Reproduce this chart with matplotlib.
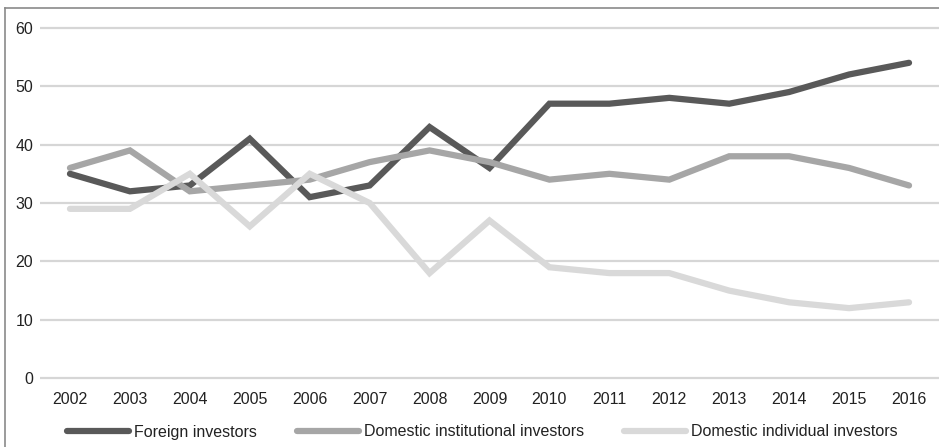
import matplotlib
matplotlib.use("Agg")
import matplotlib.pyplot as plt
from matplotlib.lines import Line2D

# data
years = [2002, 2003, 2004, 2005, 2006, 2007, 2008, 2009,
         2010, 2011, 2012, 2013, 2014, 2015, 2016]
foreign = [35, 32, 33, 41, 31, 33, 43, 36, 47, 47, 48, 47, 49, 52, 54]
institutional = [36, 39, 32, 33, 34, 37, 39, 37, 34, 35, 34, 38, 38, 36, 33]
individual = [29, 29, 35, 26, 35, 30, 18, 27, 19, 18, 18, 15, 13, 12, 13]
series_names = ["Foreign investors", "Domestic institutional investors",
                "Domestic individual investors"]
y_ticks = [0, 10, 20, 30, 40, 50, 60]

plt.rcParams['font.family'] = ['Liberation Sans', 'DejaVu Sans']
plt.rcParams['font.size'] = 11.5

fig = plt.figure(figsize=(9.39, 4.47), dpi=100)
ax = fig.add_axes([40 / 939, 1 - 380 / 447, 899 / 939, 354 / 447])

colors = ["#595959", "#a6a6a6", "#d9d9d9"]
for vals, name, c in zip([foreign, institutional, individual], series_names, colors):
    ax.plot(years, vals, color=c, lw=4.5, solid_capstyle='round',
            solid_joinstyle='miter', label=name, zorder=3)

ax.set_xlim(2001.5, 2016.5)
ax.set_ylim(-0.3, 60.3)
ax.set_xticks(years)
ax.set_xticklabels([str(y) for y in years])
ax.set_yticks(y_ticks)
ax.grid(axis='y', color="#d6d6d6", lw=1.6, zorder=1)
ax.tick_params(length=0, colors="#222222")
ax.tick_params(axis='x', pad=9)
ax.tick_params(axis='y', pad=5)
for s in ax.spines.values():
    s.set_visible(False)

leg = fig.legend(loc='center', bbox_to_anchor=(482 / 939, 1 - 432 / 447),
                 ncol=3, frameon=False, handlelength=3.9, handletextpad=0.3,
                 columnspacing=2.5, borderpad=0)
for t in leg.get_texts():
    t.set_color("#222222")

# outer frame (only top and left edges visible)
fig.add_artist(Line2D([5 / 939, 5 / 939], [0, 1 - 8 / 447], color="#8a8a8a", lw=1.2,
                      transform=fig.transFigure))
fig.add_artist(Line2D([5 / 939, 1], [1 - 8 / 447, 1 - 8 / 447], color="#8a8a8a", lw=1.2,
                      transform=fig.transFigure))

fig.savefig("out.png", dpi=100)
